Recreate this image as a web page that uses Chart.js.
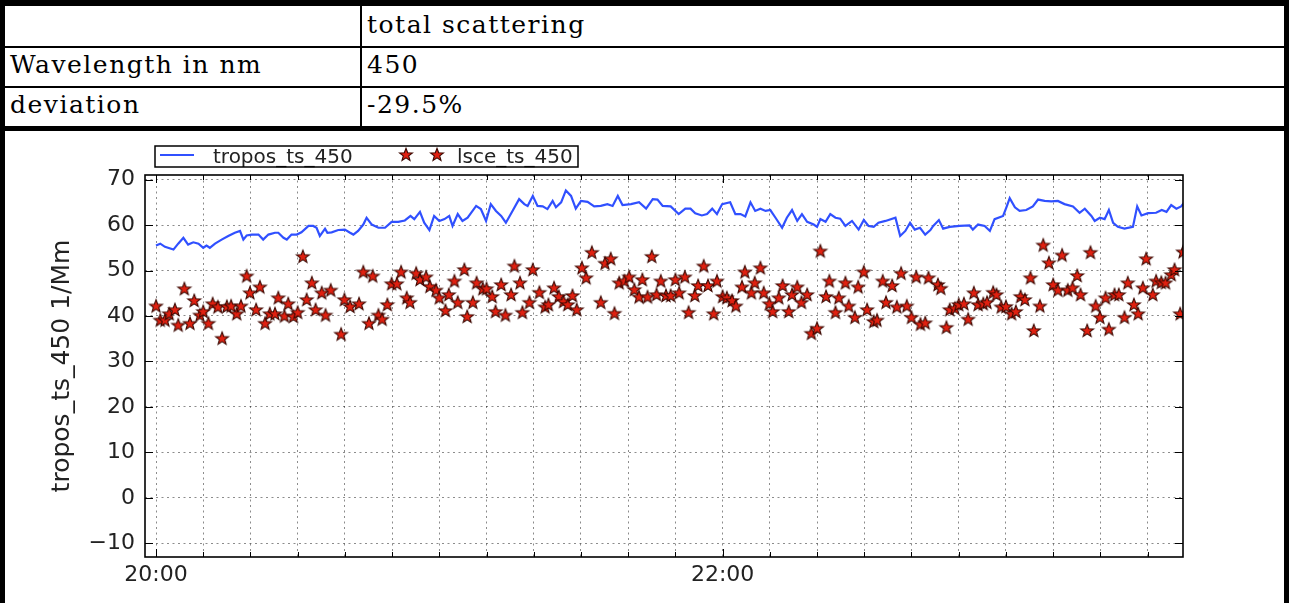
<!DOCTYPE html>
<html>
<head>
<meta charset="utf-8">
<script src="https://cdn.jsdelivr.net/npm/chart.js@4.4.1/dist/chart.umd.min.js"></script>
<style>
  body { margin: 0; background: #fff; width: 1289px; height: 603px; overflow: hidden; position: relative; }
  .bar { position: absolute; background: #000; }
  .cell { position: absolute; font-family: "DejaVu Serif", serif; font-size: 25px; line-height: normal; color: #000; letter-spacing: 1.5px; white-space: nowrap; }
  #chartBox { position: absolute; left: 5px; top: 131px; width: 1279px; height: 472px; }
</style>
</head>
<body>
<!-- table frame -->
<div class="bar" style="left:0;top:0;width:1289px;height:6px"></div>
<div class="bar" style="left:0;top:0;width:5px;height:603px"></div>
<div class="bar" style="left:1284px;top:0;width:5px;height:603px"></div>
<div class="bar" style="left:0;top:46px;width:1289px;height:2px"></div>
<div class="bar" style="left:0;top:86px;width:1289px;height:2px"></div>
<div class="bar" style="left:0;top:126px;width:1289px;height:5px"></div>
<div class="bar" style="left:360px;top:6px;width:2px;height:120px"></div>

<div class="cell" style="left:367px;top:10px">total scattering</div>
<div class="cell" style="left:10px;top:50px">Wavelength in nm</div>
<div class="cell" style="left:367px;top:50px">450</div>
<div class="cell" style="left:10px;top:90px">deviation</div>
<div class="cell" style="left:367px;top:90px">-29.5%</div>

<div id="chartBox"><canvas id="grafico"></canvas></div>

<script>
// minutes after 20:00
const troposMinutes = [
  0, 0.9, 1.9, 3.7, 4.7, 5.8, 6.8, 7.9, 9.0, 10.0, 10.7, 11.4, 12.5, 13.9, 15.3, 16.7, 17.8, 18.5, 19.2, 20.3,
  21.7, 22.7, 23.8, 25.2, 25.9, 27.0, 27.7, 28.7, 29.8, 30.8, 32.3, 33.3, 34.0, 34.7, 35.8, 36.3, 37.2, 38.6, 40.0, 41.1,
  41.8, 42.8, 43.9, 44.6, 45.7, 47.1, 48.5, 49.9, 51.3, 52.7, 53.9, 54.7, 55.9, 56.8, 57.9, 58.9, 60.0, 61.1, 62.1, 62.8,
  63.9, 64.9, 66.0, 67.8, 68.8, 69.9, 70.9, 72.0, 73.1, 74.1, 75.5, 76.9, 78.0, 78.7, 79.8, 80.8, 81.9, 82.9, 84.0, 84.7,
  85.8, 86.8, 87.9, 88.9, 90.0, 91.4, 92.8, 94.2, 95.6, 96.7, 97.8, 98.8, 100.6, 102.3, 103.8, 105.2, 106.2, 107.3, 109.0, 110.7,
  112.1, 113.2, 114.2, 115.6, 116.7, 117.8, 118.8, 119.9, 121.6, 122.7, 123.8, 124.8, 125.9, 126.9, 128.0, 129.1, 130.1, 131.2, 132.6, 133.6,
  134.7, 135.8, 136.8, 137.9, 139.3, 140.0, 140.7, 141.8, 142.8, 143.9, 144.9, 146.0, 147.4, 148.8, 149.9, 150.9, 152.0, 153.0, 154.5, 156.6,
  157.6, 158.7, 159.7, 160.7, 161.8, 162.9, 164.0, 164.6, 165.8, 166.7, 168.1, 170.2, 172.3, 173.0, 174.1, 175.5, 176.6, 177.6, 179.4, 180.1,
  180.8, 181.9, 182.9, 184.3, 185.7, 186.8, 188.2, 189.6, 191.0, 192.4, 194.2, 195.6, 196.7, 198.1, 198.8, 199.9, 200.9, 201.8, 202.7, 203.7,
  205.1, 206.9, 207.8, 208.7, 210.1, 211.8, 213.0, 214.0, 215.0, 216.1, 217.1, 217.8
];
const troposValues = [
  55.5, 55.9, 55.2, 54.6, 55.9, 57.2, 55.7, 56.2, 55.9, 55.0, 55.5, 55.0, 55.9, 56.8, 57.6, 58.3, 58.7, 56.8, 57.7, 57.9,
  57.9, 56.8, 57.9, 58.3, 58.3, 57.2, 56.8, 57.9, 57.9, 58.4, 59.8, 59.8, 59.4, 57.6, 59.2, 58.3, 58.4, 58.9, 59.0, 58.3,
  57.9, 58.7, 60.1, 61.6, 60.1, 59.4, 59.4, 60.7, 60.7, 61.0, 62.0, 61.3, 62.9, 60.5, 58.9, 62.0, 60.9, 61.3, 62.0, 59.8,
  62.4, 60.9, 61.6, 64.2, 63.5, 60.9, 64.6, 63.1, 62.0, 60.5, 63.1, 65.7, 64.6, 64.2, 66.4, 64.2, 64.1, 63.5, 65.3, 63.9,
  65.0, 67.6, 66.4, 63.6, 65.3, 65.1, 64.1, 64.2, 64.6, 64.2, 66.4, 64.4, 64.6, 65.0, 63.6, 65.7, 65.6, 64.2, 64.1, 62.4,
  63.6, 63.6, 62.6, 62.1, 62.4, 63.6, 62.4, 64.6, 65.0, 62.4, 62.4, 61.9, 65.0, 63.1, 63.6, 63.1, 63.3, 61.6, 59.4, 61.6,
  63.3, 60.9, 62.4, 60.7, 60.1, 59.6, 61.3, 60.7, 62.4, 61.6, 61.4, 59.8, 60.9, 59.0, 61.1, 59.8, 59.6, 60.5, 60.9, 61.6,
  57.6, 58.7, 60.5, 59.0, 59.4, 57.9, 58.9, 59.8, 61.1, 59.2, 59.6, 59.8, 59.9, 59.0, 60.1, 59.8, 58.7, 61.3, 62.0, 63.9,
  65.9, 63.9, 63.1, 63.3, 64.1, 65.6, 65.3, 65.2, 65.3, 64.6, 64.1, 62.7, 63.6, 62.0, 60.9, 61.6, 61.3, 63.3, 60.5, 59.6,
  59.2, 59.6, 64.1, 62.1, 62.6, 62.7, 63.3, 62.9, 64.4, 63.6, 64.1, 65.0
];

const lsceMinutes = [
  0.0, 0.9, 1.9, 2.8, 4.0, 4.7, 6.0, 7.2, 8.1, 9.3, 10.0, 11.1, 12.0, 13.1, 14.0, 15.0, 15.9, 17.1, 18.0, 19.2,
  19.9, 21.2, 22.0, 23.1, 24.1, 25.2, 25.9, 27.2, 28.0, 29.1, 30.0, 31.1, 31.9, 33.0, 33.8, 35.1, 35.9, 37.0, 39.2, 39.9,
  41.1, 41.3, 43.0, 43.9, 45.1, 45.9, 47.1, 47.9, 49.0, 49.9, 51.0, 51.9, 53.1, 53.8, 55.1, 55.9, 57.2, 58.0, 59.3, 60.0,
  61.3, 62.0, 63.2, 63.9, 65.3, 65.9, 67.1, 67.9, 69.2, 70.0, 71.2, 71.9, 73.1, 74.0, 75.2, 75.9, 77.1, 77.6, 79.1, 79.8,
  81.2, 82.4, 83.1, 84.3, 85.3, 86.3, 87.2, 88.2, 89.1, 90.2, 91.1, 92.3, 94.2, 95.1, 96.3, 97.1, 98.1, 99.2, 100.2, 101.3,
  102.3, 103.0, 104.1, 105.0, 106.0, 106.9, 108.0, 109.0, 110.0, 110.8, 112.0, 112.8, 114.1, 114.8, 116.0, 116.9, 118.1, 118.8, 120.0, 120.9,
  122.0, 122.8, 124.1, 124.7, 126.1, 126.8, 128.0, 128.7, 129.9, 130.6, 131.9, 132.7, 134.0, 134.7, 135.8, 136.7, 137.9, 138.8, 140.0, 140.7,
  141.9, 142.6, 143.9, 144.6, 146.0, 146.7, 148.0, 148.7, 149.9, 150.6, 152.0, 152.7, 153.9, 154.6, 155.9, 156.9, 157.8, 159.0, 160.0, 161.0,
  161.9, 162.9, 163.6, 165.6, 166.2, 167.4, 168.1, 169.2, 170.0, 171.1, 172.0, 173.2, 174.1, 175.2, 176.0, 177.3, 178.0, 179.0, 180.0, 181.2,
  182.1, 183.1, 184.0, 185.2, 185.9, 187.2, 187.9, 189.1, 190.0, 191.0, 191.9, 193.1, 194.1, 195.1, 195.8, 197.2, 197.9, 199.0, 199.9, 201.1,
  201.8, 203.0, 203.9, 205.1, 205.8, 207.1, 208.0, 209.0, 209.7, 211.1, 211.8, 212.9, 213.8, 215.0, 215.7, 216.9, 217.5
];
const lsceValues = [
  42.1, 39.0, 39.0, 40.4, 41.3, 37.9, 45.9, 38.3, 43.3, 40.1, 40.9, 38.3, 42.6, 41.9, 35.0, 42.0, 42.1, 40.4, 42.1, 48.7,
  45.0, 41.3, 46.3, 38.3, 40.4, 40.4, 43.9, 39.9, 42.6, 39.8, 40.7, 53.0, 43.5, 47.2, 41.3, 45.0, 40.1, 45.6, 35.9, 43.5,
  42.0, 72.3, 42.6, 49.6, 38.3, 48.7, 40.1, 39.2, 42.4, 47.0, 47.0, 49.6, 43.9, 42.9, 49.3, 47.9, 48.5, 46.4, 45.6, 43.9,
  41.1, 44.6, 47.6, 42.9, 50.1, 39.8, 42.9, 47.2, 45.9, 45.9, 44.2, 40.9, 46.8, 40.1, 44.6, 50.9, 47.2, 40.7, 42.9, 50.1,
  45.1, 41.9, 42.4, 46.1, 44.2, 43.1, 42.4, 44.4, 41.3, 50.5, 48.3, 53.9, 42.9, 51.5, 52.5, 40.5, 47.2, 47.6, 48.5, 45.7,
  44.1, 47.9, 44.1, 53.0, 44.6, 47.6, 44.4, 44.4, 47.9, 45.0, 48.5, 40.7, 44.4, 46.6, 50.9, 46.6, 40.4, 47.6, 44.2, 43.9,
  43.3, 42.1, 46.3, 49.6, 45.0, 47.2, 50.5, 45.0, 42.6, 40.9, 43.9, 46.6, 40.9, 44.6, 46.3, 42.9, 44.6, 36.1, 37.2, 54.2,
  44.2, 47.6, 40.7, 43.9, 47.2, 42.1, 39.6, 46.3, 49.6, 41.3, 38.7, 39.0, 47.6, 42.9, 46.6, 41.9, 49.3, 42.1, 39.6, 48.5,
  38.1, 38.4, 48.3, 46.8, 46.0, 37.4, 41.3, 41.6, 42.4, 42.6, 39.2, 45.0, 42.4, 42.6, 42.9, 45.1, 44.6, 41.9, 42.0, 40.4,
  40.9, 44.2, 43.5, 48.3, 36.7, 42.1, 55.5, 51.6, 46.8, 45.6, 53.3, 45.6, 46.1, 48.8, 44.6, 36.7, 53.9, 42.1, 39.6, 43.9,
  37.0, 44.6, 44.6, 39.6, 47.2, 42.4, 40.4, 46.1, 52.5, 44.6, 47.6, 47.3, 47.2, 49.0, 50.1, 40.4, 54.0
];

const yTickValues = [-10, 0, 10, 20, 30, 40, 50, 60, 70];
const xTickValues = [0, 10, 20, 30, 40, 50, 60, 70, 80, 90, 100, 110, 120, 130, 140, 150, 160, 170, 180, 190, 200, 210];
const xLabelMinutes = [0, 120];
const xLabelTexts = ["20:00", "22:00"];

const fuente = "'DejaVu Sans', sans-serif";

// matplotlib style red star marker
function hacerEstrella(r) {
  const c = document.createElement("canvas");
  const s = Math.ceil(r * 2 + 4);
  c.width = s;
  c.height = s;
  const g = c.getContext("2d");
  g.beginPath();
  for (let i = 0; i < 10; i++) {
    const rad = i % 2 === 0 ? r : r * 0.42;
    const ang = -Math.PI / 2 + (i * Math.PI) / 5;
    const px = s / 2 + rad * Math.cos(ang);
    const py = s / 2 + rad * Math.sin(ang);
    if (i === 0) g.moveTo(px, py);
    else g.lineTo(px, py);
  }
  g.closePath();
  g.fillStyle = "#e02010";
  g.fill();
  g.lineWidth = 1.1;
  g.strokeStyle = "#3a0800";
  g.stroke();
  return c;
}
const estrella = hacerEstrella(6.8);

// frame around the plot and inward ticks like matplotlib
const plugin_marco = {
  id: "marco",
  afterDatasetsDraw: (chart) => {
    const { ctx, chartArea: a, scales } = chart;
    ctx.save();
    ctx.strokeStyle = "#000";
    ctx.lineWidth = 1;
    xTickValues.forEach((v) => {
      const px = Math.round(scales.x.getPixelForValue(v)) + 0.5;
      const largo = xLabelMinutes.includes(v) ? 8 : 5;
      ctx.beginPath();
      ctx.moveTo(px, a.bottom);
      ctx.lineTo(px, a.bottom - largo);
      ctx.moveTo(px, a.top);
      ctx.lineTo(px, a.top + largo);
      ctx.stroke();
    });
    yTickValues.forEach((v) => {
      const py = Math.round(scales.y.getPixelForValue(v)) + 0.5;
      ctx.beginPath();
      ctx.moveTo(a.left, py);
      ctx.lineTo(a.left + 8, py);
      ctx.moveTo(a.right, py);
      ctx.lineTo(a.right - 8, py);
      ctx.stroke();
    });
    ctx.lineWidth = 1.6;
    ctx.strokeRect(a.left, a.top, a.right - a.left, a.bottom - a.top);
    ctx.restore();
  },
};

// legend box above the axes, one row
const plugin_leyenda = {
  id: "leyenda",
  afterDraw: (chart) => {
    const ctx = chart.ctx;
    const ds = chart.data.datasets;
    const x0 = 150, y0 = 15, w = 423, h = 21;
    const cy = y0 + 9;
    ctx.save();
    ctx.fillStyle = "#fff";
    ctx.fillRect(x0, y0, w, h);
    ctx.font = "20px " + fuente;
    ctx.fillStyle = "#222";
    ctx.textBaseline = "alphabetic";
    ctx.fillText(ds[0].label, 208, y0 + 17);
    ctx.fillText(ds[1].label, 452, y0 + 17);
    ctx.strokeStyle = ds[0].borderColor;
    ctx.lineWidth = 2;
    ctx.beginPath();
    ctx.moveTo(155, cy);
    ctx.lineTo(189, cy);
    ctx.stroke();
    [401, 432].forEach((sx) => {
      ctx.drawImage(estrella, sx - estrella.width / 2, cy - estrella.height / 2);
    });
    ctx.strokeStyle = "#000";
    ctx.lineWidth = 1.5;
    ctx.strokeRect(x0, y0, w, h);
    ctx.restore();
  },
};

const gridPunteado = {
  color: "rgba(0,0,0,0.45)",
  lineWidth: 1,
  drawTicks: false,
};

const ctx = document.getElementById("grafico").getContext("2d");
const grafico = new Chart(ctx, {
  type: "scatter",
  data: {
    datasets: [
      {
        label: "tropos_ts_450",
        data: troposMinutes.map((m, i) => ({ x: m, y: troposValues[i] })),
        showLine: true,
        borderColor: "#3050ff",
        borderWidth: 2.2,
        pointRadius: 0,
        tension: 0,
        clip: 0,
      },
      {
        label: "lsce_ts_450",
        data: lsceMinutes.map((m, i) => ({ x: m, y: lsceValues[i] })),
        showLine: false,
        pointStyle: estrella,
        clip: 0,
      },
    ],
  },
  options: {
    responsive: true,
    maintainAspectRatio: false,
    animation: false,
    layout: { padding: { top: 44, right: 101, left: 0, bottom: 0 } },
    plugins: {
      legend: { display: false },
      tooltip: { enabled: false },
    },
    scales: {
      x: {
        type: "linear",
        min: -2.33,
        max: 217.5,
        afterBuildTicks: (scale) => {
          scale.ticks = xTickValues.map((v) => ({ value: v }));
        },
        afterFit: (scale) => {
          scale.height = 46;
        },
        ticks: {
          autoSkip: false,
          maxRotation: 0,
          padding: 5,
          color: "#222",
          font: { family: fuente, size: 22 },
          callback: (v) => {
            const k = xLabelMinutes.indexOf(v);
            return k >= 0 ? xLabelTexts[k] : "";
          },
        },
        grid: { ...gridPunteado, borderDash: [2, 3.5] },
        border: { display: false, dash: [2, 3.5] },
      },
      y: {
        min: -13,
        max: 71,
        afterBuildTicks: (scale) => {
          scale.ticks = yTickValues.map((v) => ({ value: v }));
        },
        afterFit: (scale) => {
          scale.width = 140;
        },
        ticks: {
          autoSkip: false,
          padding: 10,
          color: "#222",
          font: { family: fuente, size: 22 },
          callback: (v) => (v < 0 ? "\u2212" + Math.abs(v) : "" + v),
        },
        grid: gridPunteado,
        border: { display: false, dash: [2, 3.5] },
        title: {
          display: true,
          text: "tropos_ts_450 1/Mm",
          color: "#222",
          font: { family: fuente, size: 25 },
          padding: { top: 42, bottom: 0 },
        },
      },
    },
  },
  plugins: [plugin_marco, plugin_leyenda],
});
</script>
</body>
</html>
